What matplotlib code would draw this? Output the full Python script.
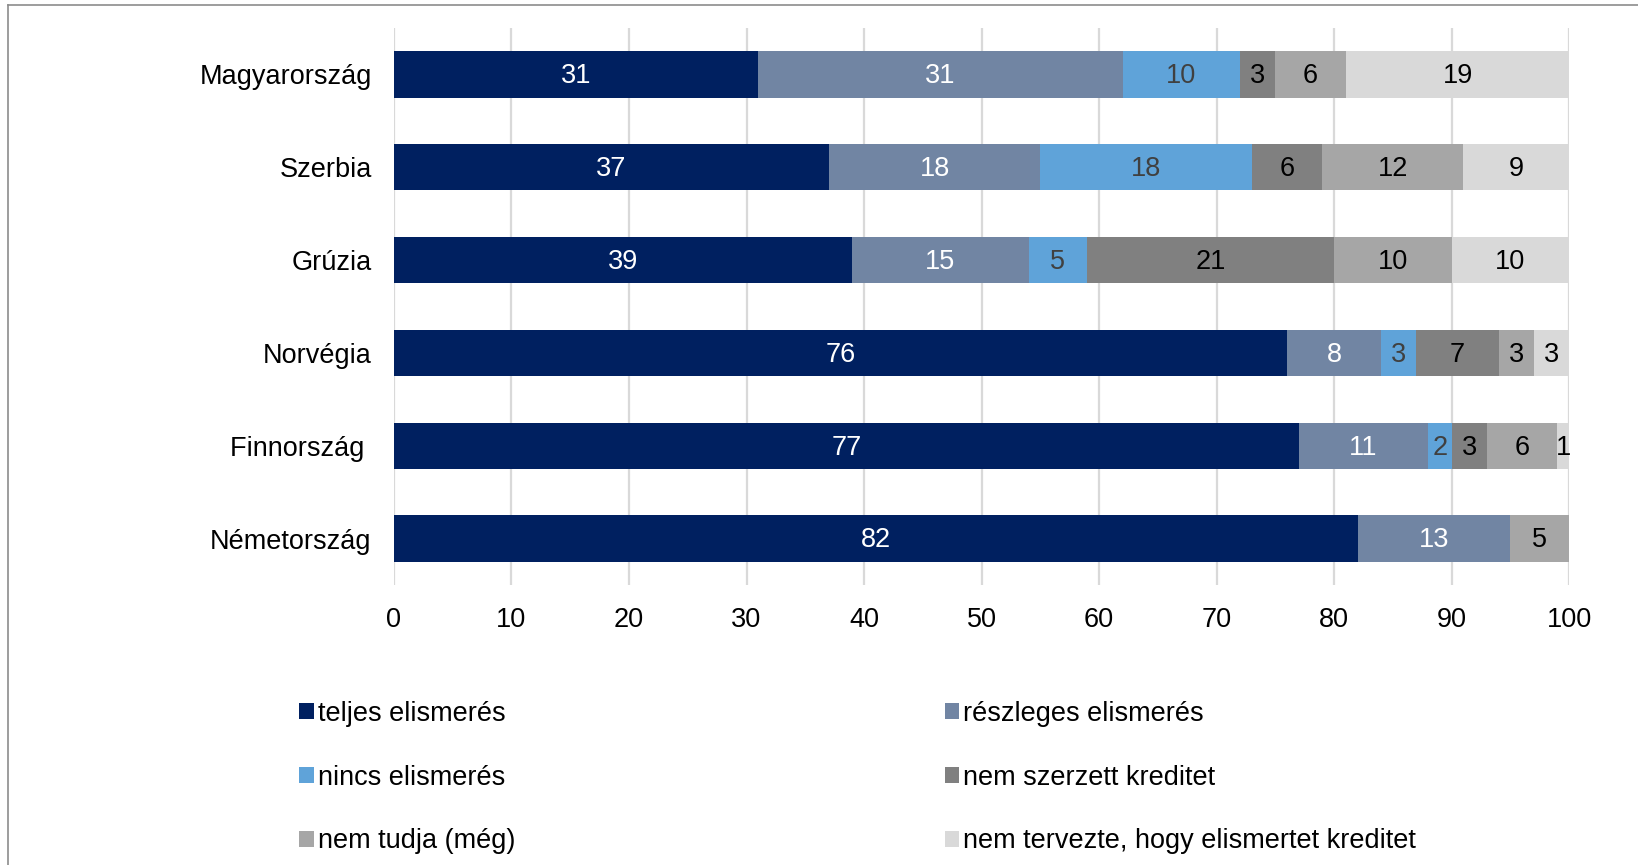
import numpy as np
import matplotlib.pyplot as plt
from matplotlib.lines import Line2D

plt.rcParams['font.family'] = ['Liberation Sans', 'DejaVu Sans']

# data
countries = ["Magyarország", "Szerbia", "Grúzia", "Norvégia", "Finnország ", "Németország"]
series = ["teljes elismerés", "részleges elismerés", "nincs elismerés",
          "nem szerzett kreditet", "nem tudja (még)", "nem tervezte, hogy elismertet kreditet"]
teljes = [31, 37, 39, 76, 77, 82]
reszleges = [31, 18, 15, 8, 11, 13]
nincs = [10, 18, 5, 3, 2, 0]
nem_szerzett = [3, 6, 21, 7, 3, 0]
nem_tudja = [6, 12, 10, 3, 6, 5]
nem_tervezte = [19, 9, 10, 3, 1, 0]

values = [teljes, reszleges, nincs, nem_szerzett, nem_tudja, nem_tervezte]
colors = ['#002060', '#7185a3', '#5fa3d9', '#808080', '#a6a6a6', '#d9d9d9']
txt_colors = ['white', 'white', '#404040', 'black', 'black', 'black']

fig = plt.figure(figsize=(16.38, 8.65), dpi=100)
ax = fig.add_axes([0.2405, 0.3237, 0.7175, 0.6439])

y = np.arange(len(countries))
left = np.zeros(len(countries))
handles = []
for vals, c, tc, name in zip(values, colors, txt_colors, series):
    vals = np.array(vals, dtype=float)
    bars = ax.barh(y, vals, left=left, height=0.5, color=c, label=name, zorder=3)
    for b, v in zip(bars, vals):
        if v > 0:
            ax.text(b.get_x() + b.get_width() / 2, b.get_y() + b.get_height() / 2 + 0.02,
                    f"{int(v)}", ha='center', va='center', color=tc, fontsize=19.5, zorder=4)
    left += vals
    handles.append(bars)

ax.set_xlim(0, 100)
ax.set_ylim(5.5, -0.5)
ax.set_xticks(range(0, 101, 10))
ax.set_yticks(y)
ax.set_yticklabels(countries)
ax.tick_params(axis='both', length=0, labelsize=19.5, colors='black')
ax.tick_params(axis='y', pad=16)
ax.tick_params(axis='x', pad=16)
ax.grid(axis='x', color='#d9d9d9', linewidth=1.6, zorder=0)
for s in ax.spines.values():
    s.set_visible(False)

order = [0, 2, 4, 1, 3, 5]
leg = fig.legend([handles[i] for i in order], [series[i] for i in order],
                 ncol=2, loc='upper left', bbox_to_anchor=(0.1825, 0.19),
                 frameon=False, fontsize=19.5, handlelength=0.55, handleheight=0.55,
                 handletextpad=0.15, columnspacing=15.85, labelspacing=1.4,
                 borderaxespad=0, borderpad=0)

# frame of the cropped picture
fig.add_artist(Line2D([8 / 1638, 1], [1 - 5 / 865, 1 - 5 / 865], color='#8c8c8c', lw=1.2))
fig.add_artist(Line2D([8 / 1638, 8 / 1638], [0, 1 - 5 / 865], color='#8c8c8c', lw=1.2))

fig.savefig('out.png', dpi=100, facecolor='white')
